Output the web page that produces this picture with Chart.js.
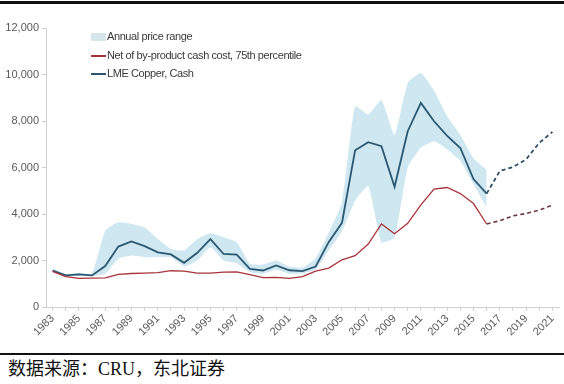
<!DOCTYPE html>
<html>
<head>
<meta charset="utf-8">
<script src="https://cdn.jsdelivr.net/npm/chart.js@4/dist/chart.umd.min.js"></script>
<style>
    html, body { margin: 0; padding: 0; background: #fff; }
    #page { position: relative; width: 564px; height: 384px; overflow: hidden; background: #fff; }
    #topRule { position: absolute; left: 0; top: 1px; width: 564px; height: 3px; background: #111; }
    #bottomRule { position: absolute; left: 0; top: 353px; width: 564px; height: 2px; background: #111; }
    #wrap { position: absolute; left: 0; top: 0; width: 564px; height: 350px; }
    #legend { position: absolute; left: 91px; top: 28px; font-family: "Liberation Sans", Arial, sans-serif;
              font-size: 11px; color: #3a3a3a; letter-spacing: -0.4px; }
    #legend .row { height: 18.5px; line-height: 16px; white-space: nowrap; }
    #legend .sw { display: inline-block; width: 15px; margin-right: 1px; vertical-align: middle; }
    #caption { position: absolute; left: 8px; top: 358px; font-family: "Liberation Serif", "Noto Sans CJK SC", serif;
               font-size: 18px; color: #111; line-height: 22px; }
</style>
</head>
<body>
<div id="page">
    <div id="topRule"></div>
    <div id="wrap"><canvas id="chart"></canvas></div>
    <div id="legend"></div>
    <div id="bottomRule"></div>
    <div id="caption">数据来源：CRU，东北证券</div>
</div>

<script>
    // years 1983 - 2021
    var years = [];
    for (var y = 1983; y <= 2021; y++) years.push(String(y));

    // LME copper cash, 1983 - 2016
    var lmeCash = [1570, 1360, 1400, 1360, 1760, 2600, 2820, 2620, 2350, 2260,
                   1900, 2330, 2920, 2280, 2250, 1640, 1570, 1790, 1580, 1540,
                   1740, 2800, 3620, 6740, 7090, 6920, 5170, 7560, 8780, 7990,
                   7360, 6840, 5500, 4880];
    // LME forecast, 2017 - 2021
    var lmeForecast = [5850, 6020, 6350, 7060, 7530];

    // net of by-product cash cost, 75th percentile, 1983 - 2016
    var cashCost = [1530, 1310, 1230, 1240, 1250, 1400, 1440, 1460, 1480, 1560,
                    1540, 1460, 1460, 1500, 1510, 1390, 1260, 1270, 1230, 1310,
                    1540, 1670, 2030, 2210, 2710, 3570, 3150, 3600, 4390, 5070,
                    5140, 4880, 4450, 3570];
    // cost forecast, 2017 - 2021
    var costForecast = [3710, 3920, 4020, 4170, 4380];

    // annual price range, 1983 - 2016
    var rangeHigh = [1640, 1420, 1460, 1440, 3280, 3640, 3570, 3420, 2930, 2500,
                     2430, 2920, 3170, 3000, 2780, 1860, 1830, 2000, 1740, 1700,
                     2100, 3200, 4500, 8640, 8280, 8900, 7400, 9630, 10060, 9300,
                     8200, 7400, 6400, 5900];
    var rangeLow = [1490, 1300, 1340, 1320, 1430, 2070, 2210, 2140, 2150, 2140,
                    1740, 2000, 2570, 2000, 1880, 1500, 1430, 1600, 1430, 1450,
                    1600, 2450, 3250, 4570, 5200, 2780, 3000, 6000, 6850, 7130,
                    6780, 6280, 5280, 4300];

    var BLUE = '#2a5872';
    var RED = '#a8343a';
    var BAND = '#cfe7f1';

    function pad(arr, n) {
        var out = arr.slice();
        while (out.length < n) out.push(null);
        return out;
    }

    function forecast(hist, fc) {
        var out = [];
        for (var i = 0; i < hist.length - 1; i++) out.push(null);
        out.push(hist[hist.length - 1]);
        return out.concat(fc);
    }

    var n = years.length;
    var datasets = [
        { label: 'Net of by-product cash cost, 75th percentile', data: pad(cashCost, n),
          borderColor: RED, borderWidth: 1.3, pointRadius: 0, tension: 0, fill: false },
        { label: 'LME Copper, Cash', data: pad(lmeCash, n),
          borderColor: BLUE, borderWidth: 1.8, pointRadius: 0, tension: 0, fill: false },
        { label: 'cost forecast', data: forecast(cashCost, costForecast),
          borderColor: '#6b3a40', borderWidth: 1.6, borderDash: [4, 3], pointRadius: 0, tension: 0, fill: false },
        { label: 'lme forecast', data: forecast(lmeCash, lmeForecast),
          borderColor: '#2f4f66', borderWidth: 1.8, borderDash: [4, 3], pointRadius: 0, tension: 0, fill: false },
        { label: 'Annual price range', data: pad(rangeHigh, n),
          borderWidth: 0, borderColor: 'rgba(0,0,0,0)', backgroundColor: BAND, pointRadius: 0, tension: 0.15, fill: '+1' },
        { label: 'range low', data: pad(rangeLow, n),
          borderWidth: 0, borderColor: 'rgba(0,0,0,0)', backgroundColor: BAND, pointRadius: 0, tension: 0.15, fill: false }
    ];

    // html legend inside the plot
    var legendItems = [
        { text: 'Annual price range', swatch: '<span class="sw" style="height:8px;background:#d6e5ec"></span>' },
        { text: 'Net of by-product cash cost, 75th percentile', swatch: '<span class="sw" style="height:2px;background:' + RED + '"></span>' },
        { text: 'LME Copper, Cash', swatch: '<span class="sw" style="height:2px;background:' + BLUE + '"></span>' }
    ];
    document.getElementById('legend').innerHTML = legendItems.map(function (it) {
        return '<div class="row">' + it.swatch + it.text + '</div>';
    }).join('');

    var tickFont = { family: '"Liberation Sans", Arial, sans-serif', size: 11 };

    new Chart(document.getElementById('chart').getContext('2d'), {
        type: 'line',
        data: { labels: years, datasets: datasets },
        options: {
            responsive: true,
            maintainAspectRatio: false,
            animation: false,
            layout: { padding: { top: 28, right: 5, bottom: 0, left: 0 } },
            plugins: {
                legend: { display: false },
                tooltip: { enabled: false }
            },
            scales: {
                x: {
                    offset: true,
                    grid: { display: true, drawOnChartArea: false, color: '#d0d0d0', tickLength: 4 },
                    border: { color: '#d0d0d0' },
                    ticks: {
                        autoSkip: false, maxRotation: 45, minRotation: 45, padding: 1,
                        color: '#595959', font: tickFont,
                        callback: function (v, i) { return i % 2 === 0 ? years[i] : ''; }
                    },
                    afterFit: function (s) { s.height = 43; }
                },
                y: {
                    min: 0, max: 12000,
                    grid: { display: true, drawOnChartArea: false, color: '#d0d0d0', tickLength: 4 },
                    border: { color: '#d0d0d0' },
                    ticks: { stepSize: 2000, padding: 3, color: '#595959', font: tickFont },
                    afterFit: function (s) { s.width = 46; }
                }
            }
        }
    });
</script>
</body>
</html>
